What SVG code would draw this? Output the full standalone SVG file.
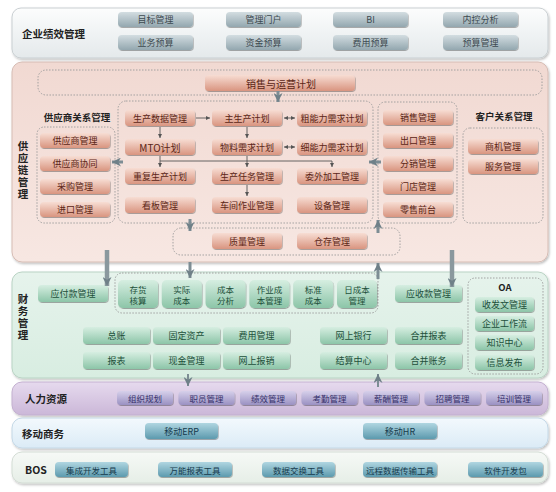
<svg xmlns="http://www.w3.org/2000/svg" width="556" height="492" viewBox="0 0 556 492">
<defs>
<linearGradient id="gTop" x1="0" y1="0" x2="0" y2="1"><stop offset="0" stop-color="#fcfdfd"/><stop offset="1" stop-color="#e4e9eb"/></linearGradient>
<linearGradient id="bGray" x1="0" y1="0" x2="0" y2="1"><stop offset="0" stop-color="#d3dde1"/><stop offset="1" stop-color="#93a7af"/></linearGradient>
<linearGradient id="gPink" x1="0" y1="0" x2="0" y2="1"><stop offset="0" stop-color="#f1d9d2"/><stop offset="1" stop-color="#f7e7e2"/></linearGradient>
<linearGradient id="bPink" x1="0" y1="0" x2="0" y2="1"><stop offset="0" stop-color="#f7ddd3"/><stop offset="1" stop-color="#d99580"/></linearGradient>
<linearGradient id="gGreen" x1="0" y1="0" x2="0" y2="1"><stop offset="0" stop-color="#e6f3ec"/><stop offset="1" stop-color="#d8ede1"/></linearGradient>
<linearGradient id="bGreen" x1="0" y1="0" x2="0" y2="1"><stop offset="0" stop-color="#d6eee1"/><stop offset="1" stop-color="#8cc5a8"/></linearGradient>
<linearGradient id="gPurple" x1="0" y1="0" x2="0" y2="1"><stop offset="0" stop-color="#e6daee"/><stop offset="1" stop-color="#cbb7d8"/></linearGradient>
<linearGradient id="bPurple" x1="0" y1="0" x2="0" y2="1"><stop offset="0" stop-color="#d6d0ea"/><stop offset="1" stop-color="#9a91c2"/></linearGradient>
<linearGradient id="gBlue" x1="0" y1="0" x2="0" y2="1"><stop offset="0" stop-color="#f3f9fd"/><stop offset="1" stop-color="#dbebf6"/></linearGradient>
<linearGradient id="bTeal" x1="0" y1="0" x2="0" y2="1"><stop offset="0" stop-color="#b0d6e1"/><stop offset="1" stop-color="#5c9aae"/></linearGradient>
<linearGradient id="gBos" x1="0" y1="0" x2="0" y2="1"><stop offset="0" stop-color="#f6f9f6"/><stop offset="1" stop-color="#e6eee7"/></linearGradient>
<filter id="sh" x="-10%" y="-20%" width="120%" height="150%"><feDropShadow dx="0.6" dy="0.9" stdDeviation="0.6" flood-color="#000" flood-opacity="0.35"/></filter>
<filter id="psh" x="-5%" y="-10%" width="110%" height="125%"><feDropShadow dx="1" dy="1.5" stdDeviation="1.2" flood-color="#000" flood-opacity="0.25"/></filter>
<marker id="mThin" viewBox="0 0 6 6" refX="6" refY="3" markerWidth="4" markerHeight="4" markerUnits="userSpaceOnUse" orient="auto-start-reverse"><path d="M0,0 L6,3 L0,6 z" fill="#555"/></marker>
<marker id="mGray" viewBox="0 0 10 10" refX="10" refY="5" markerWidth="9" markerHeight="9" markerUnits="userSpaceOnUse" orient="auto"><path d="M0,0 L10,5 L0,10 L3,5 z" fill="#6f8088"/></marker>
</defs>
<style>
text{font-family:"Noto Sans CJK SC","Noto Sans",sans-serif;}
.lbl{font-size:10.5px;font-weight:bold;fill:#222;dominant-baseline:central;}
.vlbl{font-size:10.5px;font-weight:bold;fill:#222;writing-mode:vertical-rl;text-orientation:upright;letter-spacing:1.5px;}
.sub{font-size:9.5px;font-weight:bold;fill:#222;text-anchor:middle;dominant-baseline:central;}
.t{font-size:9px;text-anchor:middle;dominant-baseline:central;}
.t2{font-size:8.5px;text-anchor:middle;dominant-baseline:central;}
.bg{fill:url(#bGray);filter:url(#sh);}
.bp{fill:url(#bPink);filter:url(#sh);}
.bgr{fill:url(#bGreen);filter:url(#sh);}
.bpu{fill:url(#bPurple);filter:url(#sh);}
.bt{fill:url(#bTeal);filter:url(#sh);}
.tg{fill:#3d4a50;}
.tp{fill:#5b2616;}
.tgr{fill:#21503a;}
.tpu{fill:#35306a;}
.tt{fill:#163a4c;}
.dash{fill:none;stroke:#9a9a9a;stroke-width:0.9;stroke-dasharray:1.5,1.5;}
.thin{fill:none;stroke:#555;stroke-width:0.9;}
.gray{fill:none;stroke:#7d8d94;stroke-width:3;}
.bar{fill:none;stroke:#8a989e;stroke-width:4.5;}
</style>

<!-- Panels -->
<g id="panel-epm"><rect x="12" y="8" width="536" height="50" rx="9" fill="url(#gTop)" stroke="#c9cfd2" filter="url(#psh)"/><text class="lbl" x="22" y="33">企业绩效管理</text></g>
<g id="panel-scm"><rect x="12" y="62" width="536" height="200" rx="10" fill="url(#gPink)" stroke="#d6bcb4" filter="url(#psh)"/>
<text class="vlbl" x="23" y="141">供应链管理</text></g>
<g id="panel-fin"><rect x="12" y="272" width="536" height="106" rx="10" fill="url(#gGreen)" stroke="#b9d3c4" filter="url(#psh)"/>
<text class="vlbl" x="23" y="294">财务管理</text></g>
<g id="panel-hr"><rect x="12" y="382" width="536" height="33" rx="10" fill="url(#gPurple)" stroke="#c3b0d0" filter="url(#psh)"/><text class="lbl" x="25" y="398.5">人力资源</text></g>
<g id="panel-mobile"><rect x="12" y="418" width="536" height="30" rx="10" fill="url(#gBlue)" stroke="#c4d8e6" filter="url(#psh)"/><text class="lbl" x="22" y="433">移动商务</text></g>
<g id="panel-bos"><rect x="12" y="452" width="536" height="31" rx="10" fill="url(#gBos)" stroke="#d4ddd5" filter="url(#psh)"/><text class="lbl" x="25" y="469">BOS</text></g>

<!-- Group containers -->
<g id="grp-sop"><rect class="dash" x="38" y="70" width="504" height="25" rx="8"/></g>
<g id="grp-srm"><text class="sub" x="77" y="117">供应商关系管理</text><rect class="dash" x="37" y="127" width="78" height="96" rx="7"/></g>
<g id="grp-prod"><rect class="dash" x="118" y="101" width="255" height="122" rx="8"/></g>
<g id="grp-sales"><rect class="dash" x="378" y="102" width="79" height="121" rx="7"/></g>
<g id="grp-crm"><text class="sub" x="504" y="116">客户关系管理</text><rect class="dash" x="463" y="128" width="80" height="95" rx="7"/></g>
<g id="grp-qw"><rect class="dash" x="173" y="228" width="227" height="27" rx="8"/></g>
<g id="grp-cost"><rect class="dash" x="115" y="273" width="263" height="40" rx="7"/></g>
<g id="grp-oa"><rect class="dash" x="468" y="278" width="75" height="96" rx="7"/><text class="sub" x="505" y="287" fill="#222">OA</text></g>

<!-- EPM nodes -->
<g id="n-mbgl"><rect class="bg" x="118" y="12" width="75" height="15" rx="4"/><text class="t tg" x="155.5" y="19.5">目标管理</text></g>
<g id="n-glmh"><rect class="bg" x="226" y="12" width="75" height="15" rx="4"/><text class="t tg" x="263.5" y="19.5">管理门户</text></g>
<g id="n-bi"><rect class="bg" x="333" y="12" width="75" height="15" rx="4"/><text class="t tg" x="370.5" y="19.5">BI</text></g>
<g id="n-nkfx"><rect class="bg" x="443" y="12" width="75" height="15" rx="4"/><text class="t tg" x="480.5" y="19.5">内控分析</text></g>
<g id="n-ywys"><rect class="bg" x="118" y="35" width="75" height="15" rx="4"/><text class="t tg" x="155.5" y="42.5">业务预算</text></g>
<g id="n-zjys"><rect class="bg" x="226" y="35" width="75" height="15" rx="4"/><text class="t tg" x="263.5" y="42.5">资金预算</text></g>
<g id="n-fyys"><rect class="bg" x="333" y="35" width="75" height="15" rx="4"/><text class="t tg" x="370.5" y="42.5">费用预算</text></g>
<g id="n-ysgl"><rect class="bg" x="443" y="35" width="75" height="15" rx="4"/><text class="t tg" x="480.5" y="42.5">预算管理</text></g>

<!-- SCM nodes -->
<g id="n-sop"><rect class="bp" x="205" y="75" width="150" height="16" rx="4"/><text class="t tp" x="281" y="83" style="font-size:10px">销售与运营计划</text></g>
<g id="n-gysgl"><rect class="bp" x="40" y="133" width="70" height="15" rx="4"/><text class="t tp" x="75" y="140.5">供应商管理</text></g>
<g id="n-gysxt"><rect class="bp" x="40" y="156" width="70" height="15" rx="4"/><text class="t tp" x="75" y="163.5">供应商协同</text></g>
<g id="n-cggl"><rect class="bp" x="40" y="179" width="70" height="15" rx="4"/><text class="t tp" x="75" y="186.5">采购管理</text></g>
<g id="n-jkgl"><rect class="bp" x="40" y="202" width="70" height="15" rx="4"/><text class="t tp" x="75" y="209.5">进口管理</text></g>

<g id="n-scsj"><rect class="bp" x="125" y="110" width="70" height="16" rx="4"/><text class="t tp" x="160" y="118">生产数据管理</text></g>
<g id="n-zscjh"><rect class="bp" x="212" y="110" width="70" height="16" rx="4"/><text class="t tp" x="247" y="118">主生产计划</text></g>
<g id="n-cnl"><rect class="bp" x="297" y="110" width="70" height="16" rx="4"/><text class="t tp" x="332" y="118">粗能力需求计划</text></g>
<g id="n-mto"><rect class="bp" x="125" y="139" width="70" height="16" rx="4"/><text class="t tp" x="160" y="147" style="font-size:10px">MTO计划</text></g>
<g id="n-wlxq"><rect class="bp" x="212" y="139" width="70" height="16" rx="4"/><text class="t tp" x="247" y="147">物料需求计划</text></g>
<g id="n-xnl"><rect class="bp" x="297" y="139" width="70" height="16" rx="4"/><text class="t tp" x="332" y="147">细能力需求计划</text></g>
<g id="n-cfsc"><rect class="bp" x="125" y="168" width="70" height="16" rx="4"/><text class="t tp" x="160" y="176">重复生产计划</text></g>
<g id="n-scrw"><rect class="bp" x="212" y="168" width="70" height="16" rx="4"/><text class="t tp" x="247" y="176">生产任务管理</text></g>
<g id="n-wwjg"><rect class="bp" x="297" y="168" width="70" height="16" rx="4"/><text class="t tp" x="332" y="176">委外加工管理</text></g>
<g id="n-kbgl"><rect class="bp" x="125" y="197" width="70" height="16" rx="4"/><text class="t tp" x="160" y="205">看板管理</text></g>
<g id="n-cjzy"><rect class="bp" x="212" y="197" width="70" height="16" rx="4"/><text class="t tp" x="247" y="205">车间作业管理</text></g>
<g id="n-sbgl"><rect class="bp" x="297" y="197" width="70" height="16" rx="4"/><text class="t tp" x="332" y="205">设备管理</text></g>

<g id="n-xsgl"><rect class="bp" x="383" y="110" width="70" height="15" rx="4"/><text class="t tp" x="418" y="117.5">销售管理</text></g>
<g id="n-ckgl"><rect class="bp" x="383" y="133" width="70" height="15" rx="4"/><text class="t tp" x="418" y="140.5">出口管理</text></g>
<g id="n-fxgl"><rect class="bp" x="383" y="156" width="70" height="15" rx="4"/><text class="t tp" x="418" y="163.5">分销管理</text></g>
<g id="n-mdgl"><rect class="bp" x="383" y="179" width="70" height="15" rx="4"/><text class="t tp" x="418" y="186.5">门店管理</text></g>
<g id="n-lsqt"><rect class="bp" x="383" y="202" width="70" height="15" rx="4"/><text class="t tp" x="418" y="209.5">零售前台</text></g>

<g id="n-sjgl"><rect class="bp" x="468" y="139" width="70" height="15" rx="4"/><text class="t tp" x="503" y="146.5">商机管理</text></g>
<g id="n-fwgl"><rect class="bp" x="468" y="159" width="70" height="15" rx="4"/><text class="t tp" x="503" y="166.5">服务管理</text></g>

<g id="n-zlgl"><rect class="bp" x="212" y="233" width="70" height="16" rx="4"/><text class="t tp" x="247" y="241">质量管理</text></g>
<g id="n-ccgl"><rect class="bp" x="297" y="233" width="70" height="16" rx="4"/><text class="t tp" x="332" y="241">仓存管理</text></g>

<!-- Finance nodes -->
<g id="n-yfk"><rect class="bgr" x="38" y="285" width="70" height="17" rx="4"/><text class="t tgr" x="73" y="293.5">应付款管理</text></g>
<g id="n-chhs"><rect class="bgr" x="118" y="280" width="40" height="28" rx="5"/><text class="t2 tgr" x="138"><tspan x="138" y="289">存货</tspan><tspan x="138" y="299.5">核算</tspan></text></g>
<g id="n-sjcb"><rect class="bgr" x="161.8" y="280" width="40" height="28" rx="5"/><text class="t2 tgr"><tspan x="181.8" y="289">实际</tspan><tspan x="181.8" y="299.5">成本</tspan></text></g>
<g id="n-cbfx"><rect class="bgr" x="205.6" y="280" width="40" height="28" rx="5"/><text class="t2 tgr"><tspan x="225.6" y="289">成本</tspan><tspan x="225.6" y="299.5">分析</tspan></text></g>
<g id="n-zycb"><rect class="bgr" x="249.4" y="280" width="40" height="28" rx="5"/><text class="t2 tgr"><tspan x="269.4" y="289">作业成</tspan><tspan x="269.4" y="299.5">本管理</tspan></text></g>
<g id="n-bzcb"><rect class="bgr" x="293.2" y="280" width="40" height="28" rx="5"/><text class="t2 tgr"><tspan x="313.2" y="289">标准</tspan><tspan x="313.2" y="299.5">成本</tspan></text></g>
<g id="n-rcb"><rect class="bgr" x="337" y="280" width="40" height="28" rx="5"/><text class="t2 tgr"><tspan x="357" y="289">日成本</tspan><tspan x="357" y="299.5">管理</tspan></text></g>
<g id="n-ysk"><rect class="bgr" x="395" y="285" width="67" height="17" rx="4"/><text class="t tgr" x="428.5" y="293.5">应收款管理</text></g>

<g id="n-zz"><rect class="bgr" x="83" y="327" width="67" height="17" rx="4"/><text class="t tgr" x="116.5" y="335.5">总账</text></g>
<g id="n-gdzc"><rect class="bgr" x="153" y="327" width="67" height="17" rx="4"/><text class="t tgr" x="186.5" y="335.5">固定资产</text></g>
<g id="n-fygl"><rect class="bgr" x="223" y="327" width="67" height="17" rx="4"/><text class="t tgr" x="256.5" y="335.5">费用管理</text></g>
<g id="n-wsyh"><rect class="bgr" x="320" y="327" width="67" height="17" rx="4"/><text class="t tgr" x="353.5" y="335.5">网上银行</text></g>
<g id="n-hbbb"><rect class="bgr" x="395" y="327" width="67" height="17" rx="4"/><text class="t tgr" x="428.5" y="335.5">合并报表</text></g>
<g id="n-bb"><rect class="bgr" x="83" y="352" width="67" height="17" rx="4"/><text class="t tgr" x="116.5" y="360.5">报表</text></g>
<g id="n-xjgl"><rect class="bgr" x="153" y="352" width="67" height="17" rx="4"/><text class="t tgr" x="186.5" y="360.5">现金管理</text></g>
<g id="n-wsbx"><rect class="bgr" x="223" y="352" width="67" height="17" rx="4"/><text class="t tgr" x="256.5" y="360.5">网上报销</text></g>
<g id="n-jszx"><rect class="bgr" x="320" y="352" width="67" height="17" rx="4"/><text class="t tgr" x="353.5" y="360.5">结算中心</text></g>
<g id="n-hbzw"><rect class="bgr" x="395" y="352" width="67" height="17" rx="4"/><text class="t tgr" x="428.5" y="360.5">合并账务</text></g>

<g id="n-sfw"><rect class="bgr" x="475" y="297" width="59" height="15" rx="4"/><text class="t tgr" x="504.5" y="304.5">收发文管理</text></g>
<g id="n-gzl"><rect class="bgr" x="475" y="316" width="59" height="15" rx="4"/><text class="t tgr" x="504.5" y="323.5">企业工作流</text></g>
<g id="n-zszx"><rect class="bgr" x="475" y="335" width="59" height="15" rx="4"/><text class="t tgr" x="504.5" y="342.5">知识中心</text></g>
<g id="n-xxfb"><rect class="bgr" x="475" y="355" width="59" height="15" rx="4"/><text class="t tgr" x="504.5" y="362.5">信息发布</text></g>

<!-- HR nodes -->
<g id="n-zzgh"><rect class="bpu" x="117" y="391" width="56" height="14" rx="4"/><text class="t2 tpu" x="145" y="398">组织规划</text></g>
<g id="n-zygl"><rect class="bpu" x="178.5" y="391" width="56" height="14" rx="4"/><text class="t2 tpu" x="206.5" y="398">职员管理</text></g>
<g id="n-jxgl"><rect class="bpu" x="240" y="391" width="56" height="14" rx="4"/><text class="t2 tpu" x="268" y="398">绩效管理</text></g>
<g id="n-kqgl"><rect class="bpu" x="301.5" y="391" width="56" height="14" rx="4"/><text class="t2 tpu" x="329.5" y="398">考勤管理</text></g>
<g id="n-xcgl"><rect class="bpu" x="363" y="391" width="56" height="14" rx="4"/><text class="t2 tpu" x="391" y="398">薪酬管理</text></g>
<g id="n-zpgl"><rect class="bpu" x="424.5" y="391" width="56" height="14" rx="4"/><text class="t2 tpu" x="452.5" y="398">招聘管理</text></g>
<g id="n-pxgl"><rect class="bpu" x="486" y="391" width="56" height="14" rx="4"/><text class="t2 tpu" x="514" y="398">培训管理</text></g>

<!-- Mobile nodes -->
<g id="n-merp"><rect class="bt" x="145" y="423" width="73" height="16" rx="4"/><text class="t tt" x="181.5" y="431">移动ERP</text></g>
<g id="n-mhr"><rect class="bt" x="363" y="423" width="74" height="16" rx="4"/><text class="t tt" x="400" y="431">移动HR</text></g>

<!-- BOS nodes -->
<g id="n-jckf"><rect class="bt" x="55" y="462" width="73" height="15" rx="4"/><text class="t2 tt" x="91.5" y="469.5">集成开发工具</text></g>
<g id="n-wnbb"><rect class="bt" x="158" y="462" width="74" height="15" rx="4"/><text class="t2 tt" x="195" y="469.5">万能报表工具</text></g>
<g id="n-sjjh"><rect class="bt" x="262" y="462" width="73" height="15" rx="4"/><text class="t2 tt" x="298.5" y="469.5">数据交换工具</text></g>
<g id="n-ycsj"><rect class="bt" x="363" y="462" width="74" height="15" rx="4"/><text class="t2 tt" x="400" y="469.5">远程数据传输工具</text></g>
<g id="n-rjkf"><rect class="bt" x="468" y="462" width="75" height="15" rx="4"/><text class="t2 tt" x="505.5" y="469.5">软件开发包</text></g>

<!-- Connectors -->
<g id="connectors">
<line class="thin" x1="196" y1="118" x2="210" y2="118" marker-end="url(#mThin)"/>
<line class="thin" x1="284" y1="118" x2="295" y2="118" marker-start="url(#mThin)" marker-end="url(#mThin)"/>
<line class="thin" x1="284" y1="147" x2="295" y2="147" marker-start="url(#mThin)" marker-end="url(#mThin)"/>
<line class="thin" x1="160" y1="127" x2="160" y2="138" marker-end="url(#mThin)"/>
<line class="thin" x1="247" y1="127" x2="247" y2="138" marker-end="url(#mThin)"/>
<path class="thin" d="M160,156 V161 M247,156 V161 M160,161 H332"/>
<line class="thin" x1="160" y1="161" x2="160" y2="167" marker-end="url(#mThin)"/>
<line class="thin" x1="247" y1="161" x2="247" y2="167" marker-end="url(#mThin)"/>
<line class="thin" x1="332" y1="161" x2="332" y2="167" marker-end="url(#mThin)"/>
<line class="thin" x1="247" y1="185" x2="247" y2="196" marker-end="url(#mThin)"/>

<line class="gray" x1="278" y1="91" x2="278" y2="102" marker-end="url(#mGray)"/>
<line class="gray" x1="123" y1="162" x2="112" y2="162" marker-end="url(#mGray)"/>
<line class="gray" x1="381" y1="162" x2="369" y2="162" marker-end="url(#mGray)"/>
<line class="gray" x1="190" y1="219" x2="190" y2="231" marker-end="url(#mGray)"/>
<line class="gray" x1="378" y1="233" x2="378" y2="220" marker-end="url(#mGray)"/>
<line class="gray" x1="190" y1="262" x2="190" y2="278" marker-end="url(#mGray)"/>
<line class="gray" x1="378" y1="279" x2="378" y2="263" marker-end="url(#mGray)"/>
<line class="bar" x1="107" y1="250" x2="107" y2="286" marker-end="url(#mGray)"/>
<line class="bar" x1="452" y1="250" x2="452" y2="287" marker-end="url(#mGray)"/>
<line class="gray" x1="188" y1="374" x2="188" y2="386" marker-end="url(#mGray)" style="stroke-width:2"/>
<line class="gray" x1="378" y1="387" x2="378" y2="374" marker-end="url(#mGray)" style="stroke-width:2"/>
</g>
</svg>
